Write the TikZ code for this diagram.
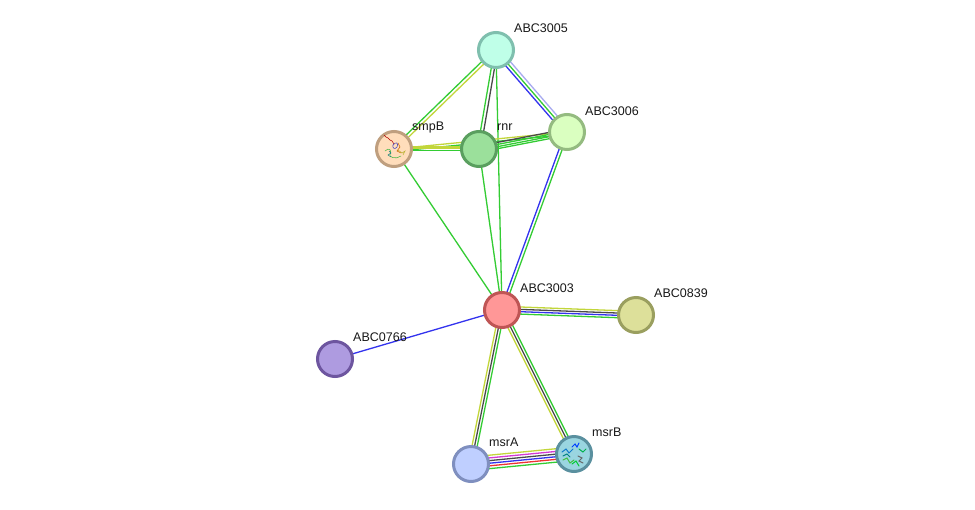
\documentclass[tikz,border=0pt]{standalone}
\usepackage{fontspec}
\setmainfont{Liberation Sans}
\usetikzlibrary{calc,backgrounds}
\definecolor{lgreen}{HTML}{33CC33}
\definecolor{lyellow}{HTML}{C2D63A}
\definecolor{lgray}{HTML}{4A4A4A}
\definecolor{lblue}{HTML}{3333EE}
\definecolor{lperi}{HTML}{A8ABF0}
\definecolor{lmag}{HTML}{D43AD4}
\definecolor{lred}{HTML}{EE3333}
\definecolor{eFill}{RGB}{191,255,232}\definecolor{eLine}{RGB}{127,191,174}
\definecolor{fFill}{RGB}{218,255,192}\definecolor{fLine}{RGB}{148,187,128}
\definecolor{sFill}{RGB}{255,221,187}\definecolor{sLine}{RGB}{191,159,127}
\definecolor{rFill}{RGB}{155,224,155}\definecolor{rLine}{RGB}{90,159,95}
\definecolor{cFill}{RGB}{255,151,151}\definecolor{cLine}{RGB}{191,85,85}
\definecolor{nFill}{RGB}{221,224,154}\definecolor{nLine}{RGB}{154,159,95}
\definecolor{gFill}{RGB}{174,155,224}\definecolor{gLine}{RGB}{109,85,159}
\definecolor{aFill}{RGB}{191,207,255}\definecolor{aLine}{RGB}{127,143,191}
\definecolor{bFill}{RGB}{154,213,224}\definecolor{bLine}{RGB}{90,144,159}
\tikzset{
  x=1pt,y=-1pt,
  protein/.style={circle,minimum size=35pt,inner sep=0pt,line width=3pt},
  tag/.style={anchor=west,inner sep=0pt,font=\fontsize{12.5}{14}\selectfont,text=black!90},
  evidence/.style={line width=1.3pt},
  fold/.style={line width=.55pt,line cap=round}
}
% One parallel strand per offset/colour pair between two proteins
\newcommand{\strands}[3]{%
  \foreach \shiftby/\shade in {#3}{%
    \draw[evidence,\shade] ($(#1)!\shiftby pt!90:(#2)$) -- ($(#2)!\shiftby pt!-90:(#1)$);
  }%
}
\begin{document}
\begin{tikzpicture}
\useasboundingbox (0,0) rectangle (975,509);

% Proteins
\node[protein,draw=eLine,fill=eFill] (abcE) at (496,50) {};
\node[protein,draw=fLine,fill=fFill] (abcF) at (567,132) {};
\node[protein,draw=sLine,fill=sFill] (smpB) at (394,149) {};
\node[protein,draw=rLine,fill=rFill] (rnr) at (479,149) {};
\node[protein,draw=cLine,fill=cFill] (abcC) at (502,310) {};
\node[protein,draw=nLine,fill=nFill] (abcN) at (636,315) {};
\node[protein,draw=gLine,fill=gFill] (abcG) at (335,359) {};
\node[protein,draw=aLine,fill=aFill] (msrA) at (471,464) {};
\node[protein,draw=bLine,fill=bFill] (msrB) at (574,454) {};

% Evidence strands, kept behind the proteins
\begin{scope}[on background layer]
  \fill[white] (0,0) rectangle (975,509);
  \strands{abcE}{smpB}{-1.6/lgreen,1.6/lyellow}
  \strands{abcE}{rnr}{-1.6/lgreen,1.6/lgray}
  \strands{abcE}{abcC}{0/lgreen}
  \strands{abcE}{abcF}{3.2/lperi,0/lgreen,-3/lblue}
  \strands{smpB}{abcF}{-2.5/lgreen,0/lyellow}
  \strands{smpB}{rnr}{-1.5/lgreen,1/lyellow,2.4/lyellow}
  \strands{rnr}{abcF}{-3.2/lgreen,-1.2/lgreen,1/lgreen,3/lgray}
  \strands{rnr}{abcC}{0/lgreen}
  \strands{smpB}{abcC}{0/lgreen}
  \strands{abcF}{abcC}{1.5/lgreen,-1.5/lblue}
  \strands{abcC}{abcN}{3.7/lyellow,1.3/lgray,-1/lblue,-3.4/lgreen}
  \strands{abcC}{abcG}{0/lblue}
  \strands{abcC}{msrA}{2.6/lgreen,0/lgray,-2.6/lyellow}
  \strands{abcC}{msrB}{2.6/lgreen,0/lgray,-2.6/lyellow}
  \strands{msrA}{msrB}{7/lyellow,4.3/lmag,1.6/lgray,-1/lblue,-3.6/lred,-6.4/lgreen}
\end{scope}

% Ribbon sketches inside the two solved structures
\begin{scope}[fold]
  \draw[red!70!black] (384,135) -- (386,137) -- (388,138) -- (390,140) -- (392,141) -- (394,144);
  \draw[blue!50!gray] (393,145) .. controls (396,141) and (399,143) .. (397,147) .. controls (395,150) and (392,148) .. (393,145);
  \draw[orange!80!black] (398,143) -- (400,147) -- (397,151) -- (401,153);
  \draw[yellow!70!black] (398,150) -- (402,153) -- (405,151) -- (403,155);
  \draw[green!45!gray] (385,151) .. controls (389,147) and (392,150) .. (390,154) .. controls (388,157) and (396,160) .. (401,156);
  \draw[teal!80!gray] (389,151) -- (391,153) -- (388,155) -- (391,157);
\end{scope}
\begin{scope}[fold,line width=1pt]
  \draw[blue!75!cyan] (572,447) -- (575,444) -- (577,447) -- (579,443);
  \draw[cyan!60!blue] (562,452) -- (566,449) -- (569,453) -- (573,449);
  \draw[teal] (563,456) -- (567,454) -- (570,457);
  \draw[green!50!gray] (563,460) -- (567,458) -- (570,463) -- (574,460);
  \draw[green!60!teal] (572,464) -- (576,461) -- (579,466);
  \draw[gray!80!black] (578,456) -- (582,458) -- (579,461) -- (583,463);
  \draw[teal!60!green] (579,449) -- (583,452) -- (586,449);
\end{scope}

% Protein names
\node[tag] (tE) at (514,28) {ABC3005};
\node[tag] (tF) at (585,111) {ABC3006};
\node[tag] (tS) at (412,127) {smpB};
\node[tag] (tR) at (497,127) {rnr};
\node[tag] (tC) at (520,288) {ABC3003};
\node[tag] (tN) at (654,293) {ABC0839};
\node[tag] (tG) at (353,337) {ABC0766};
\node[tag] (tA) at (489,442) {msrA};
\node[tag] (tB) at (592,432) {msrB};
\end{tikzpicture}
\end{document}
